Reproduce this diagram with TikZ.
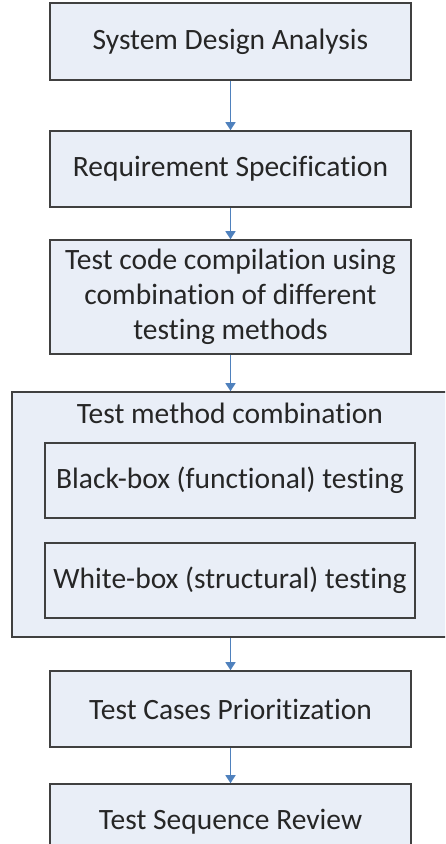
\documentclass[tikz,border=0pt]{standalone}
\usepackage{fontspec}
\setmainfont{Carlito}[Ligatures=NoCommon]
\usepackage{xcolor}
\definecolor{boxfill}{HTML}{E9EEF7}
\definecolor{boxedge}{HTML}{404040}
\definecolor{flow}{HTML}{4F81BD}
\definecolor{ink}{HTML}{262626}
\usetikzlibrary{arrows.meta}

\begin{document}
\begin{tikzpicture}[
  x=1pt, y=-1pt,
  font=\fontsize{29.5}{35}\selectfont,
  every node/.style={align=center, text=ink},
  stage/.style={draw=boxedge, fill=boxfill, line width=1.6pt,
                minimum width=361pt, minimum height=76pt, inner sep=0pt},
  link/.style={-{Triangle[width=10pt,length=8pt]}, flow, line width=1.4pt}
]
  \clip (0,0) rectangle (445,844);
  \fill[white] (0,0) rectangle (445,844);
  \node[stage, minimum height=77pt] (SDA) at (230.5,41.5) {System Design Analysis};
  \node[stage] (RS) at (230.5,169) {Requirement Specification};
  \node[stage, minimum height=114pt] (TCC) at (230.5,297)
    {Test code compilation using\\combination of different\\testing methods};
  % method block
  \node[stage, minimum width=437pt, minimum height=245pt] (TMC) at (230.5,514.5) {};
  \node (TMCt) at (230,413) {Test method combination};
  \node[stage, minimum width=370pt, minimum height=75pt] (BB) at (230,480.5)
    {Black-box (functional) testing};
  \node[stage, minimum width=370pt, minimum height=75pt] (WB) at (230,580.5)
    {White-box (structural) testing};
  \node[stage] (TCP) at (230.5,709) {Test Cases Prioritization};
  \node[stage] (TSR) at (230.5,822) {Test Sequence Review};
  \draw[link] (SDA) -- (RS);
  \draw[link] (RS) -- (TCC);
  \draw[link] (TCC) -- (TMC);
  \draw[link] (TMC) -- (TCP);
  \draw[link] (TCP) -- (TSR);
\end{tikzpicture}
\end{document}
